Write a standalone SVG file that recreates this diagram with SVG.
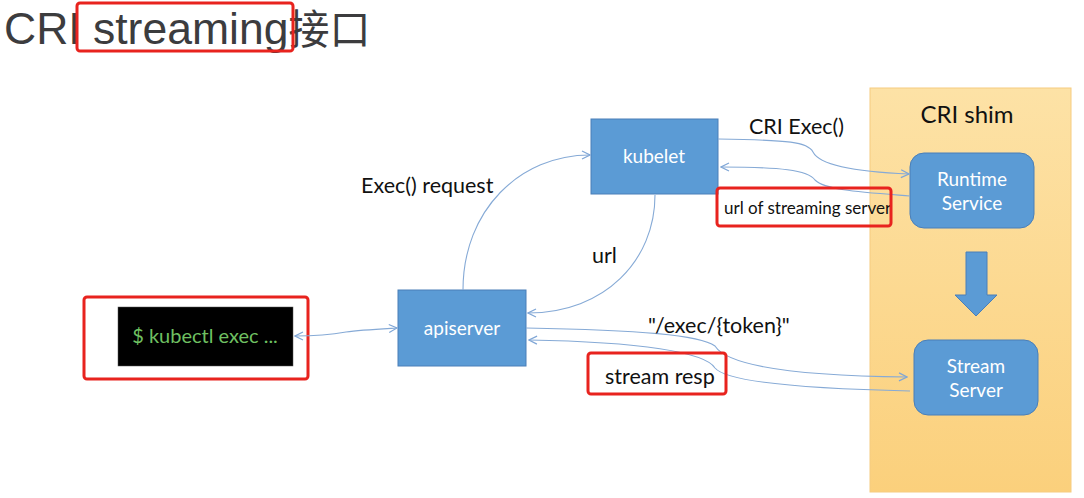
<svg xmlns="http://www.w3.org/2000/svg" width="1084" height="498" viewBox="0 0 1084 498">
<defs>
<linearGradient id="shim" x1="0" y1="0" x2="0" y2="1">
<stop offset="0" stop-color="#fde2a6"/>
<stop offset="1" stop-color="#fbd07c"/>
</linearGradient>
<marker id="ah" viewBox="0 0 10 10" refX="9" refY="5" markerWidth="10" markerHeight="10" markerUnits="userSpaceOnUse" orient="auto-start-reverse">
<path d="M1,1 L9,5 L1,9" fill="none" stroke="#7fa6d6" stroke-width="1.2"/>
</marker>
<style>
.box{fill:#5b9bd5;stroke:#4a7fb8;stroke-width:1}
.nt{font-family:Lato,"Open Sans",sans-serif;font-size:19px;fill:#ffffff;text-anchor:middle}
.lbl{font-family:Lato,"Open Sans",sans-serif;font-size:21.5px;fill:#111111}
.sm{font-size:17px}
.con{fill:none;stroke:#86aad6;stroke-width:1.1}
.hl{fill:none;stroke:#e8231e;stroke-width:3}
</style>
</defs>
<rect width="1084" height="498" fill="#ffffff"/>
<text x="4" y="44" font-family="'Liberation Sans',Arial,'Noto Sans CJK SC',sans-serif" font-size="44.5" fill="#3c3c3e">CRI streaming<tspan font-size="41">接口</tspan></text>
<rect class="hl" x="77" y="3" width="216" height="48" rx="3"/>
<g id="cri-shim">
<rect x="870" y="88" width="201" height="404" fill="url(#shim)" stroke="#f6cc80" stroke-width="1"/>
<text x="967" y="123" font-family="Lato,'Open Sans',sans-serif" font-size="24" fill="#111111" text-anchor="middle">CRI shim</text>
</g>
<g id="runtime-service">
<rect class="box" x="910" y="153" width="124" height="75" rx="14"/>
<text class="nt" x="972" y="186">Runtime</text>
<text class="nt" x="972" y="210">Service</text>
</g>
<g id="stream-server">
<rect class="box" x="914" y="340" width="124" height="75" rx="14"/>
<text class="nt" x="976" y="373">Stream</text>
<text class="nt" x="976" y="397">Server</text>
</g>
<g id="down-arrow">
<polygon points="966,252 987,252 987,295 997,295 976,316 955,295 966,295" fill="#5b9bd5" stroke="#4a7fb8" stroke-width="1"/>
</g>
<g id="kubelet">
<rect class="box" x="591" y="119" width="127" height="75"/>
<text class="nt" x="654" y="163">kubelet</text>
</g>
<g id="apiserver">
<rect class="box" x="398" y="290" width="128" height="76"/>
<text class="nt" x="462" y="335">apiserver</text>
</g>
<g id="kubectl">
<rect x="118" y="307" width="175" height="59" fill="#000000" stroke="#555555" stroke-width="0.5"/>
<text x="205" y="343" font-family="Lato,'Open Sans',sans-serif" font-size="20" fill="#6fc062" text-anchor="middle">$ kubectl exec ...</text>
<rect class="hl" x="84" y="297" width="224" height="82" rx="3"/>
</g>
<g id="connectors">
<path class="con" d="M295,336 C320,336 335,334 346,332 C360,330 380,329 397,328" marker-start="url(#ah)" marker-end="url(#ah)"/>
<path class="con" d="M463,290 C463,210 520,155 590,155" marker-end="url(#ah)"/>
<path class="con" d="M655,195 C655,260 605,313 528,313" marker-end="url(#ah)"/>
<path class="con" d="M718,139 C790,140 808,142 813,152 C820,166 860,172 909,174" marker-end="url(#ah)"/>
<path class="con" d="M910,196 C860,192 825,190 815,180 C808,170 780,167 721,167" marker-end="url(#ah)"/>
<path class="con" d="M526,328 C640,330 700,335 715,346 C730,370 820,376 907,377" marker-end="url(#ah)"/>
<path class="con" d="M910,391 C820,389 728,384 715,368 C705,352 640,342 529,340" marker-end="url(#ah)"/>
</g>
<g id="labels">
<text class="lbl" x="361" y="193">Exec() request</text>
<text class="lbl" x="592" y="263">url</text>
<text class="lbl" x="749" y="134">CRI Exec()</text>
<text class="lbl sm" x="724" y="214">url of streaming server</text>
<rect class="hl" x="717" y="188" width="174" height="38" rx="3"/>
<text class="lbl" x="648" y="333">"/exec/{token}"</text>
<text class="lbl" x="605" y="384">stream resp</text>
<rect class="hl" x="588" y="353" width="138" height="41" rx="3"/>
</g>
</svg>
